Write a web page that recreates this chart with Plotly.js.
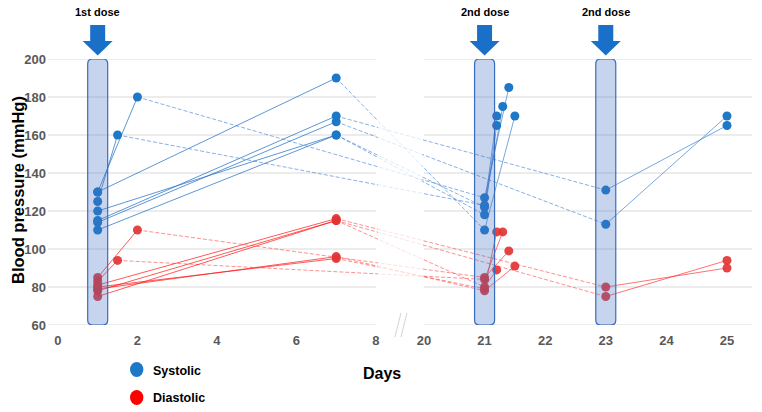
<!DOCTYPE html>
<html>
<head>
<meta charset="utf-8">
<script src="https://cdn.plot.ly/plotly-3.0.1.min.js"></script>
<style>html,body{margin:0;padding:0;background:#fff;}#chart{width:762px;height:412px;}</style>
</head>
<body>
<div id="chart"></div>
<script>
// ---------------- DATA (one entry per patient) ----------------
const patients   = ['A', 'B', 'C', 'D', 'E', 'F', 'G'];
const day1       = [1, 1, 1, 1, 1, 1, 1];
const sysDay1    = [130, 125, 130, 115, 114, 120, 110];
const diaDay1    = [85, 83, 79, 81, 78, 80, 75];
const midDay     = [2, 1.5, 7, 7, 7, 7, 7];
const sysMid     = [180, 160, 190, 170, 167, 160, 160];
const diaMid     = [110, 94, 96, 116, 115, 95, 115];
const doseDay    = [21, 21, 21, 23, 23, 21, 21];
const sysDose    = [127, 123, 110, 131, 113, 122, 118];
const diaDose    = [85, 84, 78, 80, 75, 79, 80];
const afterDay   = [21.4, 21.3, 21.5, 25, 25, 21.2, 21.2];
const sysAfter   = [185, 175, 170, 165, 170, 170, 165];
const diaAfter   = [99, 109, 91, 90, 94, 109, 89];
const doseMarks  = [1, 21, 23];
const doseLabels = ['1st dose', '2nd dose', '2nd dose'];
const leftTicks  = [0, 2, 4, 6, 8];
const rightTicks = [20, 21, 22, 23, 24, 25];
const yTicks     = [60, 80, 100, 120, 140, 160, 180, 200];

// ---------------- broken x axis (two segments on one axis) ----------------
const LEFT_MAX = 8, RIGHT_MIN = 20, RIGHT_START_U = 9.208, RIGHT_SCALE = 1.5245;
function xu(d) { return d <= LEFT_MAX ? d : RIGHT_START_U + (d - RIGHT_MIN) * RIGHT_SCALE; }
const X_MIN = -0.25, X_MAX = 17.46;

const BLUE = 'rgb(30,120,200)';
const RED = 'rgba(226,52,52,0.92)';
const traces = [];

function seg(xs, ys, color, dash, width) {
  traces.push({type: 'scatter', mode: 'lines', x: xs.map(xu), y: ys,
    line: {color: color, width: width || 1, dash: dash || 'solid'},
    hoverinfo: 'skip', showlegend: false, cliponaxis: false});
}
patients.forEach((p, i) => {
  seg([day1[i], midDay[i]], [sysDay1[i], sysMid[i]], 'rgba(40,115,200,0.75)');
  seg([midDay[i], doseDay[i]], [sysMid[i], sysDose[i]], 'rgba(70,135,215,0.65)', '4px,2px');
  seg([doseDay[i], afterDay[i]], [sysDose[i], sysAfter[i]], 'rgba(50,120,205,0.65)');
  seg([day1[i], midDay[i]], [diaDay1[i], diaMid[i]], 'rgba(255,20,20,0.7)');
  seg([midDay[i], doseDay[i]], [diaMid[i], diaDose[i]], 'rgba(255,70,70,0.6)', '4px,2px');
  seg([doseDay[i], afterDay[i]], [diaDose[i], diaAfter[i]], 'rgba(255,40,40,0.65)');
});
function pts(days, vals, color) {
  traces.push({type: 'scatter', mode: 'markers', x: days.map(xu), y: vals,
    marker: {color: color, size: 9, line: {width: 0}}, hoverinfo: 'skip',
    showlegend: false, cliponaxis: false});
}
[[day1, sysDay1, diaDay1], [midDay, sysMid, diaMid], [doseDay, sysDose, diaDose], [afterDay, sysAfter, diaAfter]]
  .forEach(g => { pts(g[0], g[1], BLUE); pts(g[0], g[2], RED); });

// ---------------- shapes ----------------
const PL = 48, PT = 59, PB = 325, PW = 704, PH = 266;
const py = v => (PB - v) / PH;           // pixel row -> paper y
const shapes = [];
yTicks.forEach(v => {
  shapes.push({type: 'line', xref: 'x', yref: 'y', x0: X_MIN, x1: xu(LEFT_MAX), y0: v, y1: v,
    line: {color: '#d9d9d9', width: 1.2}, layer: 'below'});
  shapes.push({type: 'line', xref: 'x', yref: 'y', x0: xu(RIGHT_MIN), x1: X_MAX, y0: v, y1: v,
    line: {color: '#d9d9d9', width: 1.2}, layer: 'below'});
});
// fade over the axis break
shapes.push({type: 'rect', xref: 'x', yref: 'y', x0: 8.05, x1: 9.16, y0: 60, y1: 200,
  fillcolor: 'rgba(255,255,255,0.72)', line: {width: 0}, layer: 'above'});
// break marks
[[395, 401], [401, 407]].forEach(b => {
  shapes.push({type: 'line', xref: 'x', yref: 'paper',
    x0: (b[0] - 58) / 39.75, x1: (b[1] - 58) / 39.75, y0: py(337), y1: py(313),
    line: {color: '#d4d4d4', width: 1}});
});
// dose boxes and arrows (rounded rectangles: r = 5 px -> 2.63 units in y)
const RY = 2.63, RX = 5;
const boxPath = 'M -10,' + (60 + RY) + ' L -10,' + (200 - RY) + ' Q -10,200 ' + (-10 + RX) + ',200' +
  ' L ' + (10 - RX) + ',200 Q 10,200 10,' + (200 - RY) + ' L 10,' + (60 + RY) +
  ' Q 10,60 ' + (10 - RX) + ',60 L ' + (-10 + RX) + ',60 Q -10,60 -10,' + (60 + RY) + ' Z';
doseMarks.forEach(d => {
  shapes.push({type: 'path', xref: 'x', yref: 'y', xsizemode: 'pixel', xanchor: xu(d),
    path: boxPath,
    fillcolor: 'rgba(68,114,196,0.3)', line: {color: 'rgb(58,108,188)', width: 1.2}, layer: 'above'});
  shapes.push({type: 'path', xref: 'x', yref: 'paper', xsizemode: 'pixel', xanchor: xu(d),
    path: 'M -7.5,' + py(25) + ' L 7.5,' + py(25) + ' L 7.5,' + py(41) + ' L 15,' + py(41) +
          ' L 0,' + py(55.5) + ' L -15,' + py(41) + ' L -7.5,' + py(41) + ' Z',
    fillcolor: 'rgb(26,112,200)', line: {width: 0}, layer: 'above'});
});
// legend markers
shapes.push({type: 'circle', xref: 'paper', yref: 'paper', xsizemode: 'pixel', ysizemode: 'pixel',
  xanchor: (136.7 - PL) / PW, yanchor: py(369.5), x0: -6.7, x1: 6.7, y0: -7.5, y1: 7.5,
  fillcolor: 'rgb(30,120,200)', line: {width: 0}});
shapes.push({type: 'circle', xref: 'paper', yref: 'paper', xsizemode: 'pixel', ysizemode: 'pixel',
  xanchor: (136.7 - PL) / PW, yanchor: py(397.5), x0: -6.7, x1: 6.7, y0: -7.5, y1: 7.5,
  fillcolor: 'rgb(255,0,0)', line: {width: 0}});

// ---------------- annotations ----------------
const bold = (s, c) => ({family: 'Liberation Sans, Arial, sans-serif', size: s, color: c || '#000', weight: 'bold'});
const annotations = [];
doseMarks.forEach((d, i) => annotations.push({xref: 'x', yref: 'paper', x: xu(d), y: py(12),
  text: doseLabels[i], showarrow: false, xanchor: 'center', yanchor: 'middle', font: bold(11)}));
annotations.push({xref: 'paper', yref: 'paper', x: (18 - PL) / PW, y: py(190), text: 'Blood pressure (mmHg)',
  textangle: -90, showarrow: false, xanchor: 'center', yanchor: 'middle', font: bold(16.5)});
annotations.push({xref: 'paper', yref: 'paper', x: (381.5 - PL) / PW, y: py(373), text: 'Days',
  showarrow: false, xanchor: 'center', yanchor: 'middle', font: bold(16)});
annotations.push({xref: 'paper', yref: 'paper', x: (151 - PL) / PW, y: py(371), text: 'Systolic',
  showarrow: false, xanchor: 'left', yanchor: 'middle', font: bold(12.5)});
annotations.push({xref: 'paper', yref: 'paper', x: (151 - PL) / PW, y: py(398), text: 'Diastolic',
  showarrow: false, xanchor: 'left', yanchor: 'middle', font: bold(12.5)});

const tickVals = leftTicks.concat(rightTicks);
const layout = {
  width: 762, height: 412,
  margin: {l: PL, r: 762 - PL - PW, t: PT, b: 412 - PB},
  paper_bgcolor: '#fff', plot_bgcolor: '#fff',
  showlegend: false,
  xaxis: {range: [X_MIN, X_MAX], tickvals: tickVals.map(xu), ticktext: tickVals.map(String),
    showgrid: false, zeroline: false, showline: false, ticks: '', ticklabelstandoff: 6,
    tickfont: bold(13, '#595959'), fixedrange: true},
  yaxis: {range: [60, 200], tickvals: yTicks, showgrid: false, zeroline: false, showline: false,
    ticks: '', ticklabelstandoff: 1, tickfont: bold(13, '#595959'), fixedrange: true},
  shapes: shapes,
  annotations: annotations
};
Plotly.newPlot('chart', traces, layout, {displayModeBar: false, staticPlot: true});
</script>
</body>
</html>
